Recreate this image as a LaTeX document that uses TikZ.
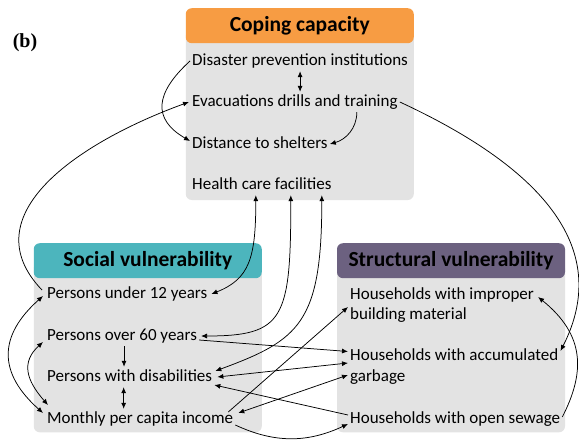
\documentclass[tikz,border=0pt]{standalone}
\usepackage{fontspec}
\setmainfont{Carlito}
\newfontfamily\tagfont{Liberation Serif}
\usetikzlibrary{arrows.meta,positioning}
\definecolor{copeorange}{RGB}{247,156,67}
\definecolor{socialteal}{RGB}{76,181,189}
\definecolor{structpurple}{RGB}{108,97,128}
\definecolor{panelgray}{RGB}{227,227,227}
\tikzset{
    %Define standard arrow tip
    >={Latex[length=6pt,width=5pt]},
    %Define style for the grey panels
    panel/.style={
           rectangle,
           rounded corners=6pt,
           fill=panelgray,
           minimum width=228pt,
           minimum height=170pt,
           inner sep=0pt,
           },
    %Define style for the coloured headers
    header/.style={
           rectangle,
           rounded corners=6pt,
           minimum width=228pt,
           minimum height=35pt,
           inner sep=0pt,
           font=\fontsize{21.5}{23}\selectfont\bfseries,
           },
    %Define style for the factors
    factorbase/.style={
           anchor=west,
           inner sep=2pt,
           align=left,
           font=\fontsize{17}{20.5}\selectfont,
           },
    factor/.style={
           factorbase,
           text height=12pt,
           text depth=4pt,
           },
    % Define arrow style
    link/.style={
           ->,
           line width=0.75pt,
           },
}
\begin{document}
\begin{tikzpicture}[x=1pt,y=1pt]
\useasboundingbox (0,0) rectangle (579,-442);
% panels and headers
\node[panel] (ccpanel) at (299.75,-115) {};
\node[panel] (svpanel) at (147.75,-347.3) {};
\node[panel] (stpanel) at (451,-347.3) {};
\node[header, fill=copeorange, anchor=north] (cchead) at (299.75,-8) {Coping capacity};
\node[header, fill=socialteal, anchor=north] (svhead) at (147.75,-243) {Social vulnerability};
\node[header, fill=structpurple, anchor=north] (sthead) at (451,-243) {Structural vulnerability};
\node[font=\tagfont\fontsize{20}{22}\selectfont\bfseries] (tag) at (25,-43) {(b)};
% factors
\node[factor] (dpi) at (190,-61) {Disaster prevention institutions};
\node[factor] (evac) at (190,-102) {Evacuations drills and training};
\node[factor] (dist) at (190,-144) {Distance to shelters};
\node[factor] (hcf) at (190,-185) {Health care facilities};
\node[factor] (u12) at (45,-294) {Persons under 12 years};
\node[factor] (o60) at (45,-336) {Persons over 60 years};
\node[factor] (dis) at (45,-377) {Persons with disabilities};
\node[factor] (inc) at (45,-419) {Monthly per capita income};
\node[factorbase] (impr) at (348,-305) {Households with improper\\building material};
\node[factorbase] (accu) at (348,-366.5) {Households with accumulated\\garbage};
\node[factor] (sew) at (348,-419) {Households with open sewage};
% links inside coping capacity
\draw[link,<->] (dpi.south) -- (dpi.south |- evac.north);
\draw[link] (dpi.west) .. controls +(-35,-32) and +(-38,22) .. ([yshift=3]dist.west);
\draw[link] ([xshift=-43]evac.south east) to[out=-90,in=15] (dist.east);
% links leaving coping capacity
\draw[link] ([shift={(-3,4)}]u12.west) .. controls +(-72,75) and +(-110,-40) .. ([xshift=-1]evac.west);
\draw[link] (evac.east) .. controls +(136,-63) and +(54,106) .. ([yshift=15.5]accu.east);
\draw[link,<->] ([xshift=-6]hcf.south) .. controls +(0,-63) and +(38,15) .. ([xshift=2]u12.east);
\draw[link,<->] ([xshift=29]hcf.south) .. controls +(0,-124) and +(83,0) .. ([xshift=2]o60.east);
\draw[link,<->] ([xshift=60]hcf.south) .. controls +(0,-128) and +(84,31) .. ([shift={(1,6)}]dis.east);
% links inside social vulnerability
\draw[link,<->] ([shift={(-2,-2)}]u12.west) .. controls +(-45,-40) and +(-45,40) .. ([shift={(-2,6)}]inc.west);
\draw[link,<->] ([shift={(-2,-6)}]o60.west) .. controls +(-22,-20) and +(-22,25) .. ([shift={(3,14)}]inc.west);
\draw[link] ([xshift=2]o60.south) -- ([xshift=2]o60.south |- dis.north);
\draw[link,<->] ([xshift=-6]dis.south) -- ([xshift=-6]dis.south |- inc.north);
% links between social and structural vulnerability
\draw[link] ([yshift=-4]o60.east) -- ([yshift=15]accu.west);
\draw[link,<->] ([xshift=3]dis.east) -- ([yshift=3.5]accu.west);
\draw[link] ([yshift=4]sew.west) -- ([yshift=-8]dis.east);
\draw[link,<->] ([shift={(3,6)}]inc.east) -- ([yshift=-8.5]accu.west);
\draw[link] ([shift={(-7,7)}]inc.east) -- ([yshift=-2]impr.west);
\draw[link] ([yshift=-6]inc.east) to[out=-25,in=205] ([yshift=-5]sew.west);
% links inside structural vulnerability
\draw[link] ([yshift=2]sew.east) .. controls +(23,45) and +(47,-38) .. ([shift={(2,8)}]impr.east);
\end{tikzpicture}
\end{document}
